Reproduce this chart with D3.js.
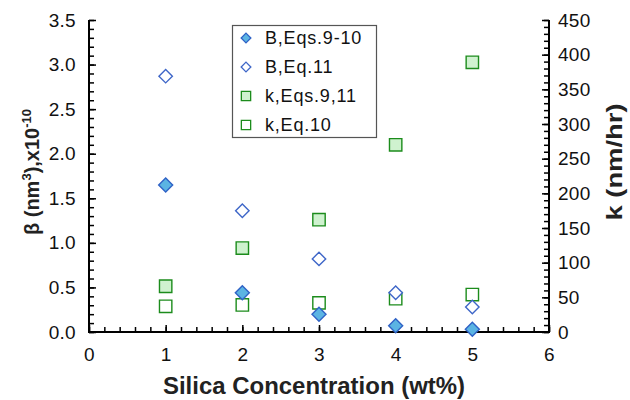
<!DOCTYPE html>
<html>
<head>
<meta charset="utf-8">
<script src="https://cdn.jsdelivr.net/npm/d3@7"></script>
<style>
  body { margin: 0; background: #fff; }
  text { font-family: "Liberation Sans", Arial, Helvetica, sans-serif; }
</style>
</head>
<body>
<script>
// data
const silica = [1, 2, 3, 4, 5];
const betaEq910 = [1.65, 0.44, 0.20, 0.07, 0.03];
const betaEq11 = [2.87, 1.36, 0.82, 0.44, 0.28];
const kEq911 = [66, 121, 162, 270, 389];
const kEq10 = [37, 39, 42, 48, 54];
const legendLabels = ["B,Eqs.9-10", "B,Eq.11", "k,Eqs.9,11", "k,Eq.10"];

const W = 630, H = 400;
const m = { left: 89, right: 549, top: 20, bottom: 332 };

const svg = d3.select("body").append("svg")
    .attr("width", W).attr("height", H)
    .attr("xmlns", "http://www.w3.org/2000/svg");

const x = d3.scaleLinear().domain([0, 6]).range([m.left, m.right]);
const yL = d3.scaleLinear().domain([0, 3.5]).range([m.bottom, m.top]);
const yR = d3.scaleLinear().domain([0, 450]).range([m.bottom, m.top]);

// minor ticks first, then major ticks + labels
function axisWithMinor(axisFn, scale, major, minor, fmt) {
    return g => {
        g.append("g").call(axisFn(scale).tickValues(minor).tickSize(5).tickFormat(""));
        g.append("g").call(axisFn(scale).tickValues(major).tickSize(7).tickFormat(fmt));
        g.selectAll(".domain").remove();
        g.selectAll("line").attr("stroke", "#000").attr("stroke-width", 1.5);
        g.selectAll("text").attr("font-size", 19).attr("fill", "#111")
            .attr("letter-spacing", 0.3);
    };
}

const xMinor = d3.range(0, 6.001, 0.2);
const yLMinor = d3.range(0, 3.501, 0.1);
const yRMinor = d3.range(0, 451, 10);

const gx = svg.append("g").attr("transform", `translate(0,${m.bottom})`)
    .call(axisWithMinor(s => d3.axisTop(s), x, d3.range(0, 7, 1), xMinor, d3.format("d")));
gx.selectAll("text").attr("y", 29).attr("dy", 0);

const gl = svg.append("g").attr("transform", `translate(${m.left},0)`)
    .call(axisWithMinor(s => d3.axisRight(s), yL, d3.range(0, 3.51, 0.5), yLMinor, d3.format(".1f")));
gl.selectAll("text").attr("x", -13).attr("text-anchor", "end");

const gr = svg.append("g").attr("transform", `translate(${m.right},0)`)
    .call(axisWithMinor(s => d3.axisLeft(s), yR, d3.range(0, 451, 50), yRMinor, d3.format("d")));
gr.selectAll("text").attr("x", 9).attr("text-anchor", "start");

// axis lines (frame without top)
svg.append("path")
    .attr("d", `M${m.left},${m.top}V${m.bottom}H${m.right}V${m.top}`)
    .attr("fill", "none").attr("stroke", "#000").attr("stroke-width", 2);

// titles
svg.append("text")
    .attr("x", 314).attr("y", 394)
    .attr("text-anchor", "middle").attr("font-size", 23).attr("font-weight", "bold")
    .attr("fill", "#222")
    .attr("textLength", 302).attr("lengthAdjust", "spacingAndGlyphs")
    .text("Silica Concentration (wt%)");

const yt = svg.append("text")
    .attr("transform", "translate(39,172) rotate(-90)")
    .attr("text-anchor", "middle").attr("font-size", 20).attr("font-weight", "bold")
    .attr("fill", "#222");
yt.append("tspan").text("β (nm");
yt.append("tspan").attr("font-size", 13).attr("dy", -8).text("3");
yt.append("tspan").attr("dy", 8).text("),x10");
yt.append("tspan").attr("font-size", 13).attr("dy", -8).text("-10");

svg.append("text")
    .attr("transform", "translate(622,162) rotate(-90)")
    .attr("text-anchor", "middle").attr("font-size", 22).attr("font-weight", "bold")
    .attr("fill", "#222")
    .attr("textLength", 117).attr("lengthAdjust", "spacingAndGlyphs")
    .text("k (nm/hr)");

// marker styles
const styles = [
    { shape: d3.symbolDiamond2, size: 125, fill: "#5bb4e3", stroke: "#2f62c6" },
    { shape: d3.symbolDiamond2, size: 115, fill: "#fff", stroke: "#3e66c8" },
    { shape: d3.symbolSquare2, size: 195, fill: "#cff2cf", stroke: "#1c8c1c" },
    { shape: d3.symbolSquare2, size: 195, fill: "#fff", stroke: "#1c8c1c" }
];
const seriesList = [
    { vals: betaEq910, y: yL },
    { vals: betaEq11, y: yL },
    { vals: kEq911, y: yR },
    { vals: kEq10, y: yR }
];

const drawOrder = [3, 2, 1, 0];
drawOrder.forEach(i => {
    const st = styles[i], s = seriesList[i];
    svg.append("g").selectAll("path")
        .data(silica.map((c, j) => [c, s.vals[j]]))
        .join("path")
        .attr("transform", d => `translate(${x(d[0])},${s.y(d[1])})`)
        .attr("d", d3.symbol(st.shape, st.size))
        .attr("fill", st.fill)
        .attr("stroke", st.stroke)
        .attr("stroke-width", 1.4);
});

// legend
const lg = svg.append("g");
lg.append("rect")
    .attr("x", 232.5).attr("y", 25.5).attr("width", 144).attr("height", 112)
    .attr("fill", "#fff").attr("stroke", "#555").attr("stroke-width", 1.2);
legendLabels.forEach((lab, i) => {
    const yy = 38 + i * 29;
    const st = styles[i];
    lg.append("path")
        .attr("transform", `translate(246,${yy})`)
        .attr("d", d3.symbol(st.shape, i < 2 ? 60 : 110))
        .attr("fill", st.fill).attr("stroke", st.stroke).attr("stroke-width", 1.3);
    lg.append("text")
        .attr("x", 265).attr("y", yy).attr("dy", "0.36em")
        .attr("font-size", 18).attr("fill", "#111")
        .attr("letter-spacing", 0.8)
        .text(lab);
});
</script>
</body>
</html>
